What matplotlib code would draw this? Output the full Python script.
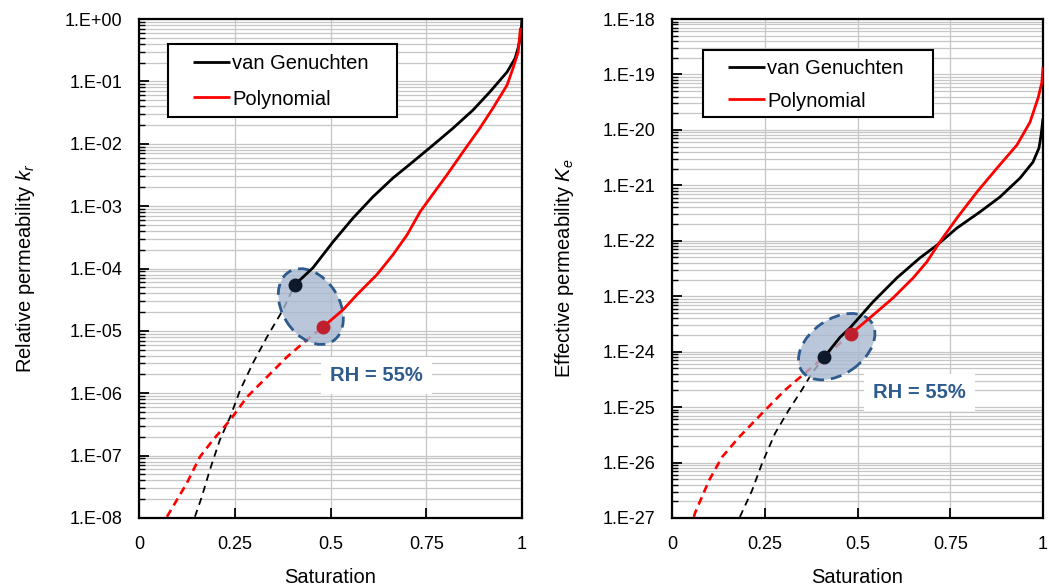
import numpy as np
import matplotlib
matplotlib.use("Agg")
import matplotlib.pyplot as plt
from matplotlib.patches import Ellipse, Rectangle
from matplotlib.transforms import ScaledTranslation
from matplotlib.ticker import FuncFormatter, NullFormatter, FixedLocator

plt.rcParams['font.family'] = ['Liberation Sans', 'DejaVu Sans']
plt.rcParams['mathtext.fontset'] = 'custom'
plt.rcParams['mathtext.it'] = 'Liberation Sans:italic'
plt.rcParams['mathtext.rm'] = 'Liberation Sans'

# ---------------- data (saturation, log10 of permeability) ----------------
# Left panel: relative permeability k_r
l_vg_solid_x = [0.407, 0.454, 0.507, 0.559, 0.611, 0.663, 0.715, 0.768, 0.820, 0.872, 0.916, 0.961, 0.982, 0.990, 0.997, 1.0]
l_vg_solid_y = [-4.26, -3.99, -3.57, -3.19, -2.85, -2.55, -2.29, -2.02, -1.75, -1.46, -1.17, -0.85, -0.63, -0.46, -0.26, 0.0]
l_vg_dash_x = [0.146, 0.164, 0.185, 0.211, 0.238, 0.264, 0.298, 0.334, 0.376, 0.407]
l_vg_dash_y = [-7.98, -7.66, -7.23, -6.75, -6.38, -5.95, -5.51, -5.10, -4.66, -4.26]
l_po_solid_x = [0.480, 0.533, 0.569, 0.621, 0.663, 0.700, 0.734, 0.760, 0.804, 0.846, 0.890, 0.924, 0.961, 0.977, 0.990, 0.996]
l_po_solid_y = [-4.94, -4.66, -4.42, -4.10, -3.78, -3.46, -3.09, -2.87, -2.50, -2.13, -1.75, -1.43, -1.06, -0.78, -0.53, -0.14]
l_po_dash_x = [0.073, 0.099, 0.125, 0.159, 0.193, 0.238, 0.282, 0.334, 0.386, 0.439, 0.480]
l_po_dash_y = [-7.98, -7.71, -7.44, -7.02, -6.75, -6.43, -6.06, -5.74, -5.42, -5.14, -4.94]
l_points_x = [0.407, 0.48]
l_points_y = [-4.26, -4.94]

# Right panel: effective permeability K_e
r_vg_solid_x = [0.410, 0.453, 0.480, 0.542, 0.606, 0.668, 0.714, 0.768, 0.830, 0.884, 0.938, 0.973, 0.989, 0.995, 1.0]
r_vg_solid_y = [-24.10, -23.74, -23.57, -23.10, -22.67, -22.31, -22.08, -21.77, -21.48, -21.21, -20.87, -20.58, -20.33, -20.09, -19.79]
r_vg_dash_x = [0.183, 0.216, 0.243, 0.278, 0.315, 0.350, 0.377, 0.410]
r_vg_dash_y = [-26.98, -26.50, -26.01, -25.47, -25.05, -24.69, -24.39, -24.10]
r_po_solid_x = [0.482, 0.542, 0.596, 0.650, 0.687, 0.722, 0.768, 0.822, 0.876, 0.930, 0.965, 0.987, 0.997, 1.0]
r_po_solid_y = [-23.68, -23.34, -23.03, -22.67, -22.38, -22.02, -21.59, -21.12, -20.69, -20.27, -19.86, -19.42, -19.14, -18.87]
r_po_dash_x = [0.059, 0.062, 0.100, 0.135, 0.181, 0.243, 0.305, 0.358, 0.423, 0.482]
r_po_dash_y = [-26.98, -26.91, -26.32, -25.90, -25.54, -25.11, -24.69, -24.39, -24.02, -23.68]
r_points_x = [0.41, 0.482]
r_points_y = [-24.10, -23.68]

x_ticks = [0, 0.25, 0.5, 0.75, 1]
x_ticklabels = ["0", "0.25", "0.5", "0.75", "1"]
legend_labels = ["van Genuchten", "Polynomial"]
ylabels = ["Relative permeability $k_r$", "Effective permeability $K_e$"]
xlabel = "Saturation"
annot = "RH = 55%"

BLUE = '#2d5b8e'
GRID = '#c6c6c6'

fig = plt.figure(figsize=(10.49, 5.88), dpi=100)
W, H = 1049, 588
ax1 = fig.add_axes([139 / W, 1 - 518 / H, 383 / W, 499 / H])
ax2 = fig.add_axes([672 / W, 1 - 518 / H, 371 / W, 499 / H])


def p10(a):
    return 10.0 ** np.asarray(a)


def setup(ax, ylo, yhi, ylabel, ylabelpad):
    ax.set_yscale('log')
    ax.set_xlim(0, 1)
    ax.set_ylim(10.0 ** ylo, 10.0 ** yhi)
    decades = np.arange(ylo, yhi + 1)
    ax.yaxis.set_major_locator(FixedLocator(10.0 ** decades))
    minors = [m * 10.0 ** d for d in decades[:-1] for m in range(2, 10)]
    ax.yaxis.set_minor_locator(FixedLocator(minors))
    ax.yaxis.set_minor_formatter(NullFormatter())
    ax.yaxis.set_major_formatter(FuncFormatter(lambda v, p: "1.E{:+03d}".format(int(round(np.log10(v))))))
    ax.xaxis.set_major_locator(FixedLocator(x_ticks))
    ax.set_xticklabels(x_ticklabels)
    ax.grid(True, which='both', axis='y', color=GRID, lw=0.9, zorder=0)
    ax.grid(True, which='major', axis='x', color=GRID, lw=0.9, zorder=0)
    ax.set_axisbelow(True)
    ax.tick_params(axis='y', which='major', direction='in', length=7, width=1.3, labelsize=13, pad=12)
    ax.tick_params(axis='y', which='minor', direction='in', length=4, width=1.0)
    ax.tick_params(axis='x', which='major', direction='in', length=7, width=1.3, labelsize=13, pad=13)
    for s in ax.spines.values():
        s.set_linewidth(1.6)
        s.set_color('black')
    ax.set_xlabel(xlabel, fontsize=14.5, labelpad=11)
    ax.set_ylabel(ylabel, fontsize=14.5, labelpad=ylabelpad)


def draw(ax, vs_x, vs_y, vd_x, vd_y, ps_x, ps_y, pd_x, pd_y, pts_x, pts_y,
         ell_c, ell_w, ell_h, ell_ang, txt_xy, leg_rect, leg_anchor, lspace):
    ax.plot(vd_x, p10(vd_y), color='black', lw=1.3, ls=(0, (4, 3)), zorder=2)
    ax.plot(pd_x, p10(pd_y), color='#ff0000', lw=1.9, ls=(0, (3, 2)), zorder=2)
    tr = fig.dpi_scale_trans + ScaledTranslation(ell_c[0], 10.0 ** ell_c[1], ax.transData)
    ax.add_patch(Ellipse((0, 0), width=ell_w, height=ell_h, angle=ell_ang, transform=tr,
                         facecolor='#a9b8d0', alpha=0.8, edgecolor='none', zorder=2.5))
    ax.add_patch(Ellipse((0, 0), width=ell_w, height=ell_h, angle=ell_ang, transform=tr,
                         facecolor='none', edgecolor=BLUE, lw=2.0, ls=(0, (4, 2.5)), zorder=2.6))
    l1, = ax.plot(vs_x, p10(vs_y), color='black', lw=2.0, zorder=4, solid_capstyle='butt')
    l2, = ax.plot(ps_x, p10(ps_y), color='#ff0000', lw=2.0, zorder=4, solid_capstyle='butt')
    ax.plot(pts_x[0], 10.0 ** pts_y[0], 'o', color='#0e1a2b', ms=9, zorder=5)
    ax.plot(pts_x[1], 10.0 ** pts_y[1], 'o', color='#c01f2e', ms=9, zorder=5)
    ax.text(txt_xy[0], 10.0 ** txt_xy[1], annot, ha='center', va='center', fontsize=14.5,
            fontweight='bold', color=BLUE, zorder=6,
            bbox=dict(boxstyle='square,pad=0.45', facecolor='white', edgecolor='none'))
    ax.add_patch(Rectangle((leg_rect[0], leg_rect[1]), leg_rect[2], leg_rect[3], transform=ax.transAxes,
                           facecolor='white', edgecolor='black', lw=1.5, zorder=7))
    leg = ax.legend([l1, l2], legend_labels, loc='upper left', bbox_to_anchor=leg_anchor,
                    frameon=False, fontsize=14.5, handlelength=1.85, handletextpad=0.1,
                    borderpad=0, borderaxespad=0, labelspacing=lspace)
    leg.set_zorder(8)


setup(ax1, -8, 0, ylabels[0], 20)
setup(ax2, -27, -18, ylabels[1], 19)

draw(ax1, l_vg_solid_x, l_vg_solid_y, l_vg_dash_x, l_vg_dash_y,
     l_po_solid_x, l_po_solid_y, l_po_dash_x, l_po_dash_y, l_points_x, l_points_y,
     (0.4486, -4.61), 0.82, 0.57, -58, (0.621, -5.72),
     (0.0757, 0.8036, 0.598, 0.146), (0.141, 0.929), 0.8)
draw(ax2, r_vg_solid_x, r_vg_solid_y, r_vg_dash_x, r_vg_dash_y,
     r_po_solid_x, r_po_solid_y, r_po_dash_x, r_po_dash_y, r_points_x, r_points_y,
     (0.444, -23.91), 0.85, 0.55, 35, (0.668, -24.73),
     (0.0836, 0.8036, 0.62, 0.134), (0.151, 0.919), 0.65)

fig.savefig('out.png', dpi=100)
